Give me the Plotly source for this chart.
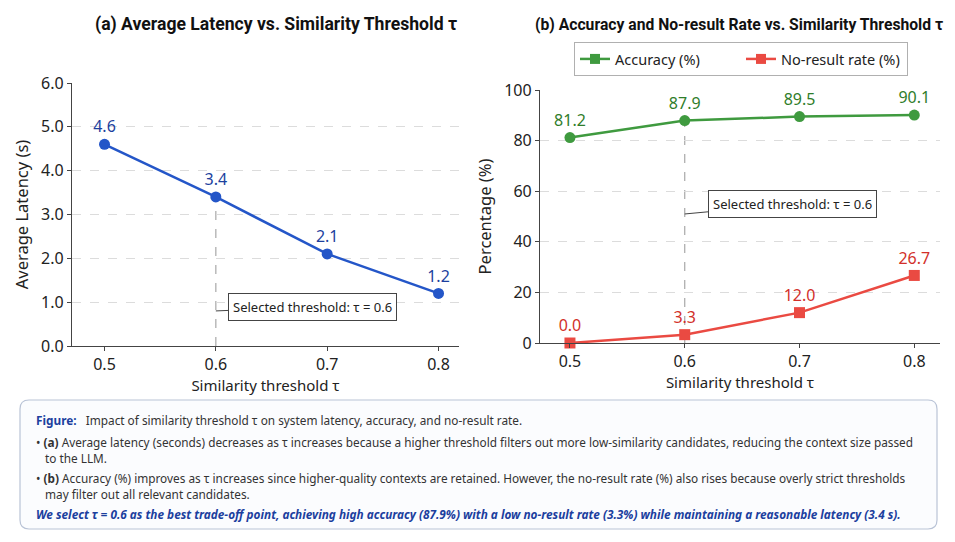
import plotly.graph_objects as go

# data
thresholds = [0.5, 0.6, 0.7, 0.8]
latency_s = [4.6, 3.4, 2.1, 1.2]
accuracy_pct = [81.2, 87.9, 89.5, 90.1]
no_result_pct = [0.0, 3.3, 12.0, 26.7]
selected_tau = 0.6

latency_ticks = [0, 1, 2, 3, 4, 5, 6]
pct_ticks = [0, 20, 40, 60, 80, 100]

# the page body has an 8px margin, so the figure is drawn 8px smaller
# and every reference pixel position is shifted by that offset
OFF = 8
W, H = 955 - OFF, 542 - OFF
FONT = "Noto Sans"
BLUE, BLUE_TXT = "#2456c8", "#1c3f9e"
GREEN, GREEN_TXT = "#3f9a3f", "#2f7d2a"
RED, RED_TXT = "#ea4a42", "#d2302a"
AXIS = "#444444"


def px_x(p):
    return (p - OFF) / W


def px_y(p):
    return 1 - (p - OFF) / H


fig = go.Figure()

# (a) latency
fig.add_trace(go.Scatter(
    x=thresholds, y=latency_s, mode="lines+markers+text",
    text=[f"{v:.1f}" for v in latency_s], textposition="top center",
    textfont=dict(size=16, color=BLUE_TXT, family=FONT),
    line=dict(color=BLUE, width=2.5), marker=dict(size=11, color=BLUE),
    cliponaxis=False, showlegend=False, xaxis="x", yaxis="y"))

# (b) accuracy / no-result rate
fig.add_trace(go.Scatter(
    x=thresholds, y=accuracy_pct, mode="lines+markers+text",
    text=[f"{v:.1f}" for v in accuracy_pct], textposition="top center",
    textfont=dict(size=16, color=GREEN_TXT, family=FONT),
    line=dict(color=GREEN, width=2.5), marker=dict(size=11, color=GREEN),
    cliponaxis=False, showlegend=False, xaxis="x2", yaxis="y2"))
fig.add_trace(go.Scatter(
    x=thresholds, y=no_result_pct, mode="lines+markers+text",
    text=[f"{v:.1f}" for v in no_result_pct], textposition="top center",
    textfont=dict(size=16, color=RED_TXT, family=FONT),
    line=dict(color=RED, width=2.5), marker=dict(size=11, color=RED, symbol="square"),
    cliponaxis=False, showlegend=False, xaxis="x2", yaxis="y2"))

# legend entries (square markers, as in the reference legend)
for name, col in [("Accuracy (%)", GREEN), ("No-result rate (%)", RED)]:
    fig.add_trace(go.Scatter(
        x=[None], y=[None], mode="lines+markers", name=name,
        line=dict(color=col, width=2.5), marker=dict(size=10, color=col, symbol="square"),
        xaxis="x2", yaxis="y2"))

axis_common = dict(
    showline=True, linecolor=AXIS, linewidth=1.2, mirror=False,
    ticks="outside", ticklen=4, tickcolor=AXIS,
    tickfont=dict(size=16, color="#222222", family=FONT),
    zeroline=False, automargin=False,
)

fig.update_layout(
    width=W, height=H,
    margin=dict(l=0, r=0, t=0, b=0),
    paper_bgcolor="white", plot_bgcolor="white",
    font=dict(family=FONT, color="#222222"),
    xaxis=dict(domain=[px_x(72), px_x(459)], range=[0.4708, 0.8184],
               tickvals=thresholds, ticktext=[f"{t:.1f}" for t in thresholds],
               showgrid=False,
               title=dict(text="Similarity threshold τ", font=dict(size=15), standoff=0),
               **axis_common),
    yaxis=dict(domain=[px_y(346), px_y(83)], range=[0, 6],
               tickvals=latency_ticks, ticktext=[f"{v:.1f}" for v in latency_ticks],
               showgrid=True, gridcolor="#dcdcdc", griddash="dash", gridwidth=1,
               title=dict(text="Average Latency (s)", font=dict(size=16.5), standoff=8),
               **axis_common),
    xaxis2=dict(domain=[px_x(540), px_x(940)], range=[0.4739, 0.8224], anchor="y2",
                tickvals=thresholds, ticktext=[f"{t:.1f}" for t in thresholds],
                showgrid=False,
                title=dict(text="Similarity threshold τ", font=dict(size=15), standoff=0),
                **axis_common),
    yaxis2=dict(domain=[px_y(343), px_y(90)], range=[0, 100], anchor="x2",
                tickvals=pct_ticks,
                showgrid=True, gridcolor="#dcdcdc", griddash="dash", gridwidth=1,
                title=dict(text="Percentage (%)", font=dict(size=16.5), standoff=8),
                **axis_common),
    legend=dict(orientation="h", x=px_x(574), y=px_y(59), xanchor="left", yanchor="middle",
                bordercolor="#b0b0b0", borderwidth=1, bgcolor="white",
                font=dict(size=14.5, color="#222222", family=FONT),
                itemwidth=30, entrywidthmode="pixels", entrywidth=121),
)

# dashed selected-threshold guides
sel_idx = thresholds.index(selected_tau)
fig.add_shape(type="line", xref="x", yref="y", x0=selected_tau, x1=selected_tau,
              y0=0, y1=latency_s[sel_idx], line=dict(color="#a8a8a8", width=1.2, dash="dash"),
              layer="below")
fig.add_shape(type="line", xref="x2", yref="y2", x0=selected_tau, x1=selected_tau,
              y0=0, y1=accuracy_pct[sel_idx], line=dict(color="#a8a8a8", width=1.2, dash="dash"),
              layer="below")

callout = dict(text="Selected threshold: τ = 0.6", showarrow=True, arrowhead=0,
               arrowwidth=1, arrowcolor="#444444",
               font=dict(size=13, color="#222222", family=FONT),
               bgcolor="white", bordercolor="#444444", borderwidth=1, borderpad=4)
fig.add_annotation(x=selected_tau, y=0.8, xref="x", yref="y", ax=97, ay=-4, **callout)
fig.add_annotation(x=selected_tau, y=51, xref="x2", yref="y2", ax=108, ay=-10, **callout)

# panel titles
fig.add_annotation(text="<b>(a) Average Latency vs. Similarity Threshold τ</b>",
                   x=px_x(276), y=px_y(25), xref="paper", yref="paper", showarrow=False,
                   xanchor="center", yanchor="middle",
                   font=dict(size=17.6, color="#111111", family="Roboto"))
fig.add_annotation(text="<b>(b) Accuracy and No-result Rate vs. Similarity Threshold τ</b>",
                   x=px_x(739), y=px_y(25), xref="paper", yref="paper", showarrow=False,
                   xanchor="center", yanchor="middle",
                   font=dict(size=15.7, color="#111111", family="Roboto"))

# caption box with rounded corners
bx0, bx1, by0, by1, r = 20, 937, 400, 529, 9
rx, ry = r / W, r / H
X0, X1, Y0, Y1 = px_x(bx0), px_x(bx1), px_y(by1), px_y(by0)
path = (f"M {X0+rx},{Y0} L {X1-rx},{Y0} Q {X1},{Y0} {X1},{Y0+ry} "
        f"L {X1},{Y1-ry} Q {X1},{Y1} {X1-rx},{Y1} L {X0+rx},{Y1} "
        f"Q {X0},{Y1} {X0},{Y1-ry} L {X0},{Y0+ry} Q {X0},{Y0} {X0+rx},{Y0} Z")
fig.add_shape(type="path", xref="paper", yref="paper", path=path,
              fillcolor="#fbfcfe", line=dict(color="#b9c3d6", width=1.2), layer="below")

caption_lines = [
    (34, 420, "<b><span style='color:#1c3f9e'>Figure:</span></b>   Impact of similarity threshold τ on system latency, accuracy, and no-result rate."),
    (34, 442, "• <b>(a)</b> Average latency (seconds) decreases as τ increases because a higher threshold filters out more low-similarity candidates, reducing the context size passed"),
    (43, 458, "to the LLM."),
    (34, 478, "• <b>(b)</b> Accuracy (%) improves as τ increases since higher-quality contexts are retained. However, the no-result rate (%) also rises because overly strict thresholds"),
    (43, 494, "may filter out all relevant candidates."),
    (34, 514, "<b><i><span style='color:#1c3f9e'>We select τ = 0.6 as the best trade-off point, achieving high accuracy (87.9%) with a low no-result rate (3.3%) while maintaining a reasonable latency (3.4 s).</span></i></b>"),
]
for cx, cy, txt in caption_lines:
    fig.add_annotation(text=txt, x=px_x(cx), y=px_y(cy), xref="paper", yref="paper",
                       xanchor="left", yanchor="middle", showarrow=False, align="left",
                       font=dict(size=11.8, color="#333333", family=FONT))

fig.write_html("out.html")
